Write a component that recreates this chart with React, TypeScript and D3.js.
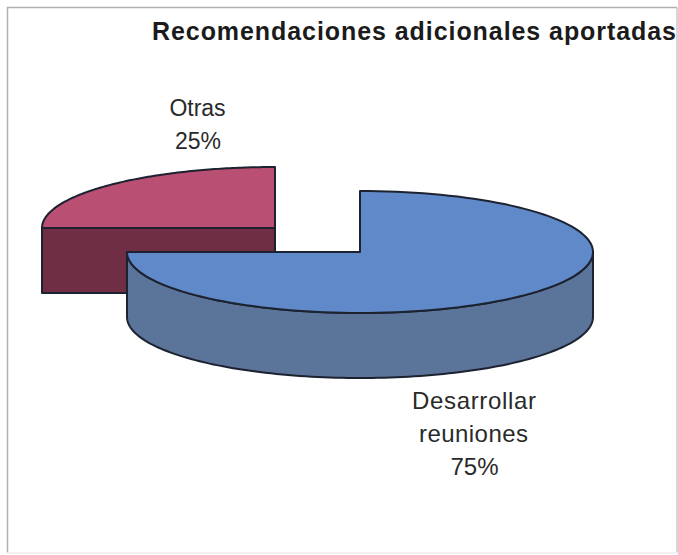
import React from "react";
import * as d3 from "d3";

const categories = ["Desarrollar reuniones", "Otras"];
const shares = [75, 25];
const percentLabels = ["75%", "25%"];
const chartTitle = "Recomendaciones adicionales aportadas";

const WIDTH = 678;
const HEIGHT = 555;
const RX = 233;
const RY = 61;
const DEPTH = 65;
const INK = "#1c2230";

// Slice centres: the smaller slice is pulled out towards the upper left.
const centres = [
  { x: 360, y: 252 },
  { x: 275, y: 228 },
];
const topFill = ["#5f89c9", "#b94f72"];
const sideFill = ["#5b7499", "#6f2e44"];

const pieLayout = d3
  .pie<number>()
  .sort(null)
  .startAngle(0)
  .endAngle(Math.PI * 2)
  .value((d) => d);

const slices = pieLayout(shares);

// Projects a pie angle (clockwise from 12 o'clock) onto the tilted ellipse.
const onEllipse = (angle: number, cx: number, cy: number): [number, number] => [
  cx + RX * Math.sin(angle),
  cy - RY * Math.cos(angle),
];

const outline = d3.line();

function topPath(i: number): string {
  const { startAngle, endAngle } = slices[i];
  const { x, y } = centres[i];
  const steps = d3.range(0, 121).map((k) => startAngle + ((endAngle - startAngle) * k) / 120);
  const pts: [number, number][] = [[x, y], ...steps.map((a) => onEllipse(a, x, y))];
  return outline(pts) + "Z";
}

// The visible wall: the front rim for a slice that crosses the lower half,
// or the flat cut face for a slice that sits wholly behind the horizon.
function sidePath(i: number): string {
  const { startAngle, endAngle } = slices[i];
  const { x, y } = centres[i];
  if (startAngle >= Math.PI * 1.5 - 1e-6) {
    const left = onEllipse(startAngle, x, y);
    return (
      outline([
        left,
        [x, y],
        [x, y + DEPTH],
        [left[0], left[1] + DEPTH],
      ]) + "Z"
    );
  }
  const from = Math.max(startAngle, Math.PI / 2);
  const to = Math.min(endAngle, Math.PI * 1.5);
  const steps = d3.range(0, 121).map((k) => from + ((to - from) * k) / 120);
  const upper = steps.map((a) => onEllipse(a, x, y));
  const lower = upper.map(([px, py]) => [px, py + DEPTH] as [number, number]).reverse();
  return outline([...upper, ...lower]) + "Z";
}

const font = "'Liberation Sans', Arial, sans-serif";

export default function App() {
  const [mainFirst, mainSecond] = categories[0].split(" ");
  return (
    <svg
      width={WIDTH}
      height={HEIGHT}
      viewBox={`0 0 ${WIDTH} ${HEIGHT}`}
      style={{ position: "absolute", left: 0, top: 0, background: "#ffffff" }}
    >
      <g fill="none" strokeWidth={1.5}>
        <path d="M7.5 552.5V7.5H677" stroke="#b0b0b0" />
        <path d="M677 7.5V552.5" stroke="#c8c8c8" />
        <path d="M7.5 553H677" stroke="#ececec" />
      </g>

      <text
        x={152}
        y={40}
        fontFamily={font}
        fontWeight={700}
        fontSize={25}
        textLength={524}
        lengthAdjust="spacing"
        fill="#1b1b1b"
      >
        {chartTitle}
      </text>

      {[1, 0].map((i) => (
        <g key={categories[i]} stroke={INK} strokeWidth={2} strokeLinejoin="round">
          <path d={sidePath(i)} fill={sideFill[i]} />
          <path d={topPath(i)} fill={topFill[i]} />
        </g>
      ))}

      <g fontFamily={font} fill="#2a2a2a" textAnchor="middle">
        <g fontSize={23}>
          <text x={197.5} y={116}>{categories[1]}</text>
          <text x={198} y={149}>{percentLabels[1]}</text>
        </g>
        <g fontSize={24}>
          <text x={474} y={409} textLength={124} lengthAdjust="spacing">{mainFirst}</text>
          <text x={473.5} y={442} textLength={109} lengthAdjust="spacing">{mainSecond}</text>
          <text x={474.5} y={475}>{percentLabels[0]}</text>
        </g>
      </g>
    </svg>
  );
}
